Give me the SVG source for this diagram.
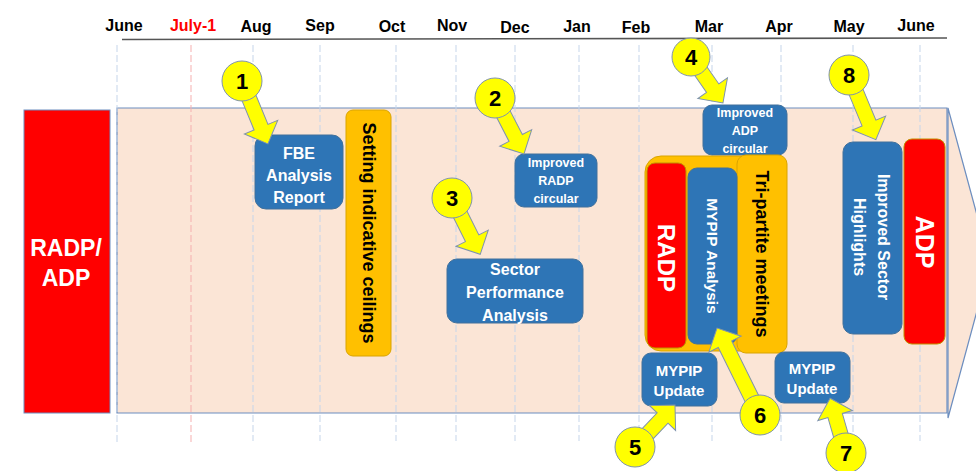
<svg xmlns="http://www.w3.org/2000/svg" width="976" height="471" viewBox="0 0 976 471">
<style>
.m{font-family:"Liberation Sans",Arial,sans-serif;font-weight:bold;font-size:16px;fill:#000;text-anchor:middle}
.t{font-family:"Liberation Sans",Arial,sans-serif;font-weight:bold;text-anchor:middle;dominant-baseline:central}
.w{fill:#fff}
.k{fill:#000}
.blue{fill:#2E75B6;stroke:#41719C;stroke-width:1}
.org{fill:#FFC000;stroke:#D9A400;stroke-width:1}
.red{fill:#FF0000;stroke:#C09000;stroke-width:1}
.grid{stroke:#C5D5EA;stroke-width:1;stroke-dasharray:7 3;fill:none}
.arr{fill:#FFFF00;stroke:#7F93AE;stroke-width:1}
.cir{fill:#FFFF00;stroke:#7F93AE;stroke-width:1}
.num{font-family:"Liberation Sans",Arial,sans-serif;font-weight:bold;font-size:22px;fill:#000;text-anchor:middle;dominant-baseline:central}
</style>
<rect width="976" height="471" fill="#fff"/>
<g id="header">
<text class="m" x="124" y="31">June</text>
<text class="m" x="193" y="31" style="fill:#FF0000">July-1</text>
<text class="m" x="256" y="32">Aug</text>
<text class="m" x="320" y="31">Sep</text>
<text class="m" x="392" y="32">Oct</text>
<text class="m" x="452" y="31">Nov</text>
<text class="m" x="515" y="33">Dec</text>
<text class="m" x="577" y="32">Jan</text>
<text class="m" x="636" y="33">Feb</text>
<text class="m" x="709" y="32">Mar</text>
<text class="m" x="779" y="32">Apr</text>
<text class="m" x="849" y="32">May</text>
<text class="m" x="916" y="31">June</text>
<line x1="122" y1="39.5" x2="947" y2="38" stroke="#555" stroke-width="1.6"/>
</g>
<g id="left-block">
<rect x="24" y="110" width="86" height="303" fill="#FF0000" stroke="#6D8EBF" stroke-width="1"/>
<text class="t w" font-size="23" x="66" y="248">RADP/</text>
<text class="t w" font-size="23" x="66" y="278">ADP</text>
</g>
<g id="timeline-arrow">
<polygon points="117,108 947,108 947,413 117,413" fill="#FBE5D6" stroke="#6D8EBF" stroke-width="1.2"/>
<polygon points="948,108 990,263 948,418" fill="#FBE5D6" stroke="#6D8EBF" stroke-width="1.2"/>
</g>
<g id="gridlines">
<line class="grid" x1="117" y1="45" x2="117" y2="445"/>
<line class="grid" x1="191" y1="45" x2="191" y2="445" style="stroke:#F5AFAF"/>
<line class="grid" x1="253" y1="45" x2="253" y2="441"/>
<line class="grid" x1="320" y1="45" x2="320" y2="441"/>
<line class="grid" x1="396" y1="45" x2="396" y2="441"/>
<line class="grid" x1="456" y1="45" x2="456" y2="441"/>
<line class="grid" x1="515" y1="45" x2="515" y2="441"/>
<line class="grid" x1="579" y1="45" x2="579" y2="441"/>
<line class="grid" x1="639" y1="45" x2="639" y2="441"/>
<line class="grid" x1="712" y1="45" x2="712" y2="441"/>
<line class="grid" x1="781" y1="45" x2="781" y2="441"/>
<line class="grid" x1="853" y1="45" x2="853" y2="441"/>
<line class="grid" x1="920" y1="45" x2="920" y2="441"/>
</g>
<g id="fbe">
<rect class="blue" x="255" y="135" width="88" height="74" rx="11"/>
<text class="t w" font-size="16" x="299" y="153">FBE</text>
<text class="t w" font-size="16" x="299" y="175">Analysis</text>
<text class="t w" font-size="16" x="299" y="197">Report</text>
</g>
<g id="ceilings">
<rect class="org" x="346" y="110" width="45" height="246" rx="7"/>
<text class="t k" font-size="18" transform="translate(368.5,233) rotate(90)">Setting indicative ceilings</text>
</g>
<g id="radp-circular">
<rect class="blue" x="515" y="154" width="82" height="53" rx="9"/>
<text class="t w" font-size="12.5" x="556" y="163">Improved</text>
<text class="t w" font-size="12.5" x="556" y="181">RADP</text>
<text class="t w" font-size="12.5" x="556" y="199">circular</text>
</g>
<g id="sector-performance">
<rect class="blue" x="447" y="259" width="136" height="64" rx="10"/>
<text class="t w" font-size="16" x="515" y="269">Sector</text>
<text class="t w" font-size="16" x="515" y="292">Performance</text>
<text class="t w" font-size="16" x="515" y="315">Analysis</text>
</g>
<g id="adp-circular">
<rect class="blue" x="703" y="105" width="84" height="50" rx="9"/>
<text class="t w" font-size="12.5" x="745" y="113">Improved</text>
<text class="t w" font-size="12.5" x="745" y="131">ADP</text>
<text class="t w" font-size="12.5" x="745" y="149">circular</text>
</g>
<g id="mypip-group">
<rect class="org" x="645" y="156" width="130" height="195" rx="16"/>
</g>
<g id="tripartite">
<rect class="org" x="737" y="155" width="50" height="198" rx="9"/>
<text class="t k" font-size="18" transform="translate(762,254) rotate(90)">Tri-partite meetings</text>
</g>
<g id="radp">
<rect class="red" x="647" y="163" width="39" height="185" rx="8"/>
<text class="t w" font-size="24" transform="translate(666,258) rotate(90)">RADP</text>
</g>
<g id="mypip-analysis">
<rect class="blue" x="688" y="168" width="49" height="176" rx="9"/>
<text class="t w" font-size="15.5" transform="translate(712,256) rotate(90)">MYPIP Analysis</text>
</g>
<g id="mypip-update-1">
<rect class="blue" x="642" y="353" width="75" height="53" rx="9"/>
<text class="t w" font-size="15" x="679" y="370">MYPIP</text>
<text class="t w" font-size="15" x="679" y="390">Update</text>
</g>
<g id="sector-highlights">
<rect class="blue" x="843" y="142" width="59" height="192" rx="10"/>
<text class="t w" font-size="16" transform="translate(883,237) rotate(90)">Improved Sector</text>
<text class="t w" font-size="16" transform="translate(859,237) rotate(90)">Highlights</text>
</g>
<g id="adp">
<rect class="red" x="904" y="139" width="41" height="205" rx="8"/>
<text class="t w" font-size="25" transform="translate(925,242) rotate(90)">ADP</text>
</g>
<g id="mypip-update-2">
<rect class="blue" x="775" y="352" width="75" height="51" rx="9"/>
<text class="t w" font-size="15" x="812" y="368">MYPIP</text>
<text class="t w" font-size="15" x="812" y="388">Update</text>
</g>
<g id="connectors">
<path class="arr" transform="translate(242,81) rotate(67.6)" d="M10,-7.5 H50 V-18 L68,0 L50,18 V7.5 H10 Z"/>
<path class="arr" transform="translate(495,98) rotate(62.6)" d="M10,-7.5 H45 V-18 L63,0 L45,18 V7.5 H10 Z"/>
<path class="arr" transform="translate(452,198) rotate(63.4)" d="M10,-7.5 H45 V-18 L63,0 L45,18 V7.5 H10 Z"/>
<path class="arr" transform="translate(691,57) rotate(55.2)" d="M10,-7.5 H38 V-18 L56,0 L38,18 V7.5 H10 Z"/>
<path class="arr" transform="translate(635,447) rotate(-46.4)" d="M10,-7.5 H40 V-18 L58,0 L40,18 V7.5 H10 Z"/>
<path class="arr" transform="translate(760,415) rotate(-116.3)" d="M10,-7.5 H79 V-18 L97,0 L79,18 V7.5 H10 Z"/>
<path class="arr" transform="translate(846,453) rotate(-106.2)" d="M10,-7.5 H39 V-18 L57,0 L39,18 V7.5 H10 Z"/>
<path class="arr" transform="translate(849,75) rotate(67.4)" d="M10,-7.5 H52 V-18 L70,0 L52,18 V7.5 H10 Z"/>
</g>
<g id="badge-1"><circle class="cir" cx="242" cy="81" r="20"/><text class="num" x="242" y="81">1</text></g>
<g id="badge-2"><circle class="cir" cx="495" cy="98" r="20"/><text class="num" x="495" y="98">2</text></g>
<g id="badge-3"><circle class="cir" cx="452" cy="198" r="20"/><text class="num" x="452" y="198">3</text></g>
<g id="badge-4"><circle class="cir" cx="691" cy="57" r="19"/><text class="num" x="691" y="57">4</text></g>
<g id="badge-5"><circle class="cir" cx="635" cy="447" r="20"/><text class="num" x="635" y="447">5</text></g>
<g id="badge-6"><circle class="cir" cx="760" cy="415" r="20"/><text class="num" x="760" y="415">6</text></g>
<g id="badge-7"><circle class="cir" cx="846" cy="453" r="20"/><text class="num" x="846" y="453">7</text></g>
<g id="badge-8"><circle class="cir" cx="849" cy="75" r="20"/><text class="num" x="849" y="75">8</text></g>
</svg>
